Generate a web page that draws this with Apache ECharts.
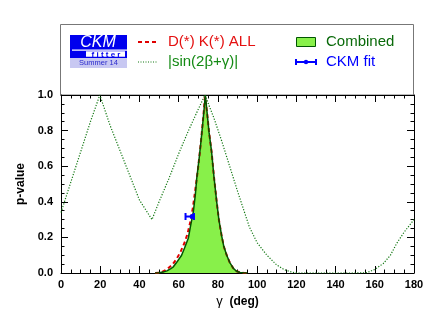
<!DOCTYPE html>
<html><head><meta charset="utf-8">
<script src="https://cdn.jsdelivr.net/npm/echarts@6/dist/echarts.min.js"></script>
<style>html,body{margin:0;padding:0;background:#fff}#c{width:436px;height:318px}</style>
</head><body><div id="c"></div>
<script>
// gamma (deg), p-value
const combinedGamma = [48, 50, 52, 54, 56, 57.3, 59, 61.5, 63, 64.9, 66, 67.5, 68.5, 69.2, 70.5, 71.7, 72.8, 73.6, 74.5, 75.5, 76.8, 78, 79.4, 80.5, 81.9, 83, 84.5, 86, 87.9, 89.5, 91.3, 93, 95];
const combinedP     = [0, 0.001, 0.005, 0.012, 0.025, 0.035, 0.06, 0.10, 0.14, 0.195, 0.26, 0.345, 0.44, 0.53, 0.65, 0.775, 0.9, 1.0, 0.9, 0.79, 0.68, 0.54, 0.40, 0.30, 0.21, 0.15, 0.10, 0.06, 0.026, 0.01, 0.003, 0.001, 0];
const dkGamma = [48, 50, 51.5, 53, 55, 57, 59, 61, 63, 64.5, 66, 67.3, 68.5, 69.8, 71.2, 72.5, 73.4, 74.5, 75.5, 76.8, 78, 79.4, 80.5, 81.9, 83, 84.5, 86, 87.9, 89.5, 91.3, 93, 95];
const dkP     = [0, 0.002, 0.006, 0.014, 0.03, 0.05, 0.08, 0.12, 0.17, 0.22, 0.29, 0.37, 0.47, 0.58, 0.72, 0.87, 0.99, 0.9, 0.79, 0.68, 0.54, 0.40, 0.30, 0.21, 0.15, 0.10, 0.06, 0.026, 0.01, 0.003, 0.001, 0];
const sinGamma = [0, 5, 10, 15, 19.8, 25, 30, 35, 40, 46.4, 50, 55, 60, 65, 70, 73.4, 78, 82, 86, 90, 93, 96, 100, 105, 110, 114, 118, 121, 150, 156, 160, 164.4, 168, 171.2, 175, 180];
const sinP     = [0.34, 0.51, 0.68, 0.85, 1.0, 0.83, 0.69, 0.55, 0.41, 0.30, 0.40, 0.53, 0.67, 0.80, 0.92, 1.0, 0.87, 0.74, 0.60, 0.46, 0.36, 0.26, 0.17, 0.10, 0.045, 0.018, 0.004, 0, 0, 0.002, 0.02, 0.054, 0.10, 0.167, 0.23, 0.30];
// CKM fit: central value, lower, upper, p-value level
const ckmFit = [[66.9, 63.5, 67.8, 0.3173]];
const xTicks = {min: 0, max: 180, interval: 20};
const yTicks = {min: 0, max: 1, interval: 0.2};

const zip = (a, b) => a.map((v, i) => [v, b[i]]);
const FONT = '"Liberation Sans", Arial, sans-serif';
const chart = echarts.init(document.getElementById('c'), null, {renderer: 'canvas'});

function axisCommon(showLabel) {
  return {
    axisLine: {show: true, onZero: false, lineStyle: {color: '#000', width: 1}},
    axisTick: {show: true, inside: true, length: 7, lineStyle: {color: '#000', width: 1}},
    minorTick: {show: true, splitNumber: 4, length: 3.5, lineStyle: {color: '#000', width: 1}},
    splitLine: {show: false},
    axisLabel: {show: showLabel, color: '#000', fontWeight: 'bold', fontSize: 11, fontFamily: FONT}
  };
}

const option = {
  animation: false,
  grid: {left: 61, right: 22, top: 95, bottom: 45},
  xAxis: [
    Object.assign({type: 'value', position: 'bottom', min: xTicks.min, max: xTicks.max, interval: xTicks.interval,
      name: '{g|γ}  {d|(deg)}', nameLocation: 'middle', nameGap: 20,
      nameTextStyle: {rich: {g: {fontSize: 13, fontFamily: FONT, color: '#000'}, d: {fontSize: 12, fontWeight: 'bold', fontFamily: FONT, color: '#000'}}}
    }, axisCommon(true), {axisLabel: {color: '#000', fontWeight: 'bold', fontSize: 11, fontFamily: FONT, margin: 6}}),
    Object.assign({type: 'value', position: 'top', min: xTicks.min, max: xTicks.max, interval: xTicks.interval}, axisCommon(false))
  ],
  yAxis: [
    Object.assign({type: 'value', position: 'left', min: yTicks.min, max: yTicks.max, interval: yTicks.interval,
      name: 'p-value', nameLocation: 'middle', nameGap: 30,
      nameTextStyle: {fontSize: 12, fontWeight: 'bold', fontFamily: FONT, color: '#000'}
    }, axisCommon(true), {axisLabel: {color: '#000', fontWeight: 'bold', fontSize: 11, fontFamily: FONT, margin: 8, formatter: v => v.toFixed(1)}}),
    Object.assign({type: 'value', position: 'right', min: yTicks.min, max: yTicks.max, interval: yTicks.interval}, axisCommon(false))
  ],
  series: [
    {type: 'line', name: 'sin', data: zip(sinGamma, sinP), showSymbol: false, smooth: false,
     lineStyle: {color: '#117711', width: 1.2, type: [1.2, 1.6]}, z: 2},
    {type: 'line', name: 'Combined fill', data: zip(combinedGamma, combinedP), showSymbol: false, smooth: false,
     lineStyle: {width: 0}, areaStyle: {color: '#88f04a', opacity: 1}, z: 3},
    {type: 'line', name: 'DK', data: zip(dkGamma, dkP), showSymbol: false, smooth: false,
     lineStyle: {color: '#e00000', width: 2, type: [4, 3]}, z: 4},
    {type: 'line', name: 'Combined', data: zip(combinedGamma, combinedP), showSymbol: false, smooth: false,
     lineStyle: {color: '#005500', width: 1.5}, z: 5},
    {type: 'custom', name: 'CKM fit', data: ckmFit, z: 6,
     renderItem: function (params, api) {
       const c = api.coord([api.value(0), api.value(3)]);
       const l = api.coord([api.value(1), api.value(3)]);
       const r = api.coord([api.value(2), api.value(3)]);
       const st = {stroke: '#0000ff', lineWidth: 2};
       return {type: 'group', children: [
         {type: 'line', shape: {x1: l[0], y1: l[1], x2: r[0], y2: r[1]}, style: st},
         {type: 'line', shape: {x1: l[0], y1: l[1] - 3.5, x2: l[0], y2: l[1] + 3.5}, style: st},
         {type: 'line', shape: {x1: r[0], y1: r[1] - 3.5, x2: r[0], y2: r[1] + 3.5}, style: st},
         {type: 'circle', shape: {cx: c[0], cy: c[1], r: 2.5}, style: {fill: '#0000ff'}}
       ]};
     }}
  ],
  graphic: [
    {type: 'rect', shape: {x: 60.5, y: 24.5, width: 353, height: 70.5}, style: {fill: 'none', stroke: '#777', lineWidth: 1}, z: 0},
    // logo
    {type: 'rect', shape: {x: 70, y: 35, width: 57, height: 23}, style: {fill: '#0000ee'}},
    {type: 'rect', shape: {x: 72, y: 49.5, width: 55, height: 1.2}, style: {fill: '#fff'}},
    {type: 'rect', shape: {x: 86, y: 51.2, width: 39, height: 5.6}, style: {fill: '#fff'}},
    {type: 'text', style: {text: 'CKM', x: 98, y: 42.5, fill: '#fff', font: 'italic 16px ' + FONT, textAlign: 'center', textVerticalAlign: 'middle'}},
    {type: 'text', style: {text: 'f i t t e r', x: 106, y: 54.3, fill: '#0000ee', font: 'bold 8px ' + FONT, textAlign: 'center', textVerticalAlign: 'middle'}},
    {type: 'rect', shape: {x: 70, y: 58, width: 57, height: 10}, style: {fill: '#c8c8f2'}},
    {type: 'text', style: {text: 'Summer 14', x: 98.5, y: 63.2, fill: '#2a2acc', font: '7.5px ' + FONT, textAlign: 'center', textVerticalAlign: 'middle'}},
    // legend entries
    {type: 'line', shape: {x1: 138, y1: 42, x2: 158, y2: 42}, style: {stroke: '#e00000', lineWidth: 2, lineDash: [4, 3]}},
    {type: 'text', style: {text: 'D(*) K(*) ALL', x: 168, y: 42, fill: '#e41010', font: '15px ' + FONT, textVerticalAlign: 'middle'}},
    {type: 'line', shape: {x1: 138, y1: 62, x2: 158, y2: 62}, style: {stroke: '#117711', lineWidth: 1, lineDash: [1, 1.5]}},
    {type: 'text', style: {text: '|sin(2β+γ)|', x: 168, y: 62, fill: '#138a13', font: '15px ' + FONT, textVerticalAlign: 'middle'}},
    {type: 'rect', shape: {x: 296.5, y: 37.5, width: 19, height: 9}, style: {fill: '#88f04a', stroke: '#005500', lineWidth: 1}},
    {type: 'text', style: {text: 'Combined', x: 326, y: 42, fill: '#0a6a0a', font: '15px ' + FONT, textVerticalAlign: 'middle'}},
    {type: 'line', shape: {x1: 296, y1: 62, x2: 316, y2: 62}, style: {stroke: '#0000ff', lineWidth: 2}},
    {type: 'line', shape: {x1: 296, y1: 59, x2: 296, y2: 65}, style: {stroke: '#0000ff', lineWidth: 2}},
    {type: 'line', shape: {x1: 316, y1: 59, x2: 316, y2: 65}, style: {stroke: '#0000ff', lineWidth: 2}},
    {type: 'circle', shape: {cx: 306, cy: 62, r: 2.2}, style: {fill: '#0000ff'}},
    {type: 'text', style: {text: 'CKM fit', x: 326, y: 62, fill: '#0000ff', font: '15px ' + FONT, textVerticalAlign: 'middle'}}
  ]
};
chart.setOption(option);
</script>
</body></html>
